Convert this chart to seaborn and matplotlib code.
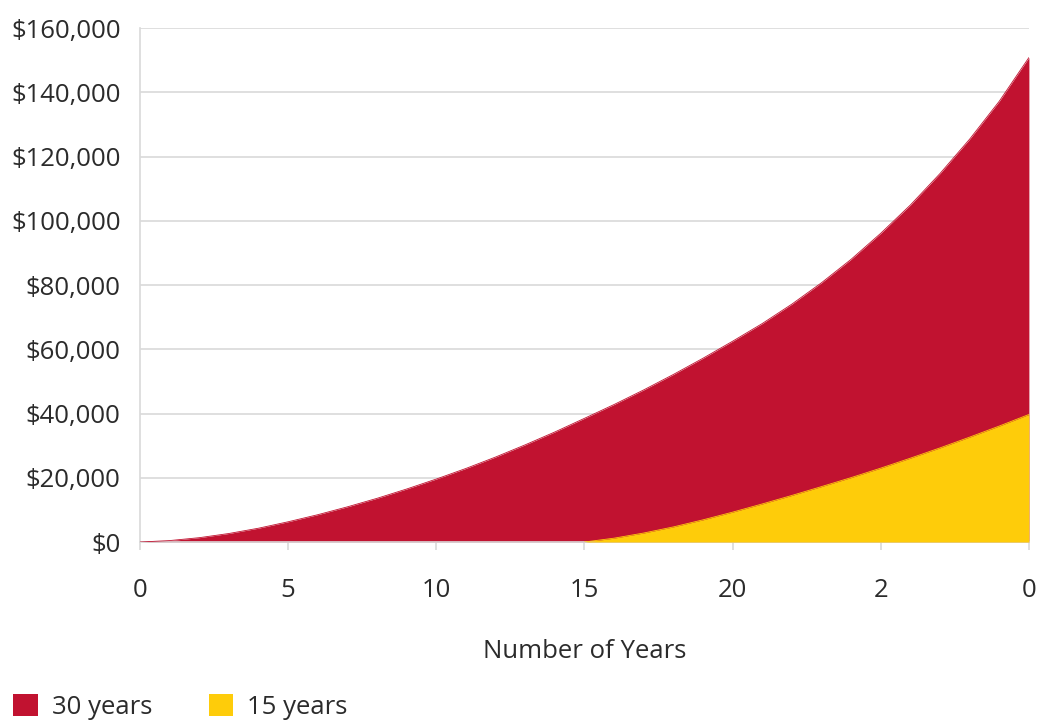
import numpy as np
import pandas as pd
import matplotlib
matplotlib.use('Agg')
import matplotlib.pyplot as plt
import seaborn as sns
from matplotlib.patches import Patch

# values (thousands of dollars)
years_30 = list(range(0, 31))
value_30 = [0, 0.45, 1.35, 2.65, 4.3, 6.3, 8.5, 10.95, 13.6, 16.5, 19.6,
            22.9, 26.45, 30.25, 34.25, 38.5, 42.8, 47.35, 52.15, 57.2, 62.5,
            68.0, 74.05, 80.7, 88.0, 96.1, 104.9, 114.7, 125.4, 137.2, 150.8]
years_15 = list(range(15, 31))
value_15 = [0, 1.2, 2.8, 4.7, 6.9, 9.3, 11.85, 14.5, 17.25, 20.05, 23.0,
            26.1, 29.3, 32.65, 36.1, 39.7]

x_ticks = [0, 5, 10, 15, 20, 25, 30]
x_tick_labels = ['0', '5', '10', '15', '20', '2', '0']
y_ticks = [0, 20000, 40000, 60000, 80000, 100000, 120000, 140000, 160000]
y_tick_labels = ['$0', '$20,000', '$40,000', '$60,000', '$80,000',
                 '$100,000', '$120,000', '$140,000', '$160,000']
series_labels = ['30 years', '15 years']

RED = '#c11230'
YELLOW = '#fecc0a'
GRID = '#d9d9d9'
TEXT = '#2b2b2b'
FS = 18.5

sns.set_theme(style='white')
plt.rcParams['font.family'] = ['Open Sans', 'DejaVu Sans']

df30 = pd.DataFrame({'year': years_30, 'value': np.array(value_30) * 1000})
df15 = pd.DataFrame({'year': years_15, 'value': np.array(value_15) * 1000})

fig = plt.figure(figsize=(10.47, 7.2), dpi=100)
ax = fig.add_axes([0.1337, 0.2472, 0.849, 0.7139])

# 30 years area
ax.fill_between(df30['year'], 0, df30['value'], color=RED, linewidth=0, zorder=2)
sns.lineplot(data=df30, x='year', y='value', color=RED, linewidth=0.6, ax=ax, zorder=3)
# 15 years area
ax.fill_between(df15['year'], 0, df15['value'], color=YELLOW, linewidth=0, zorder=4)
sns.lineplot(data=df15, x='year', y='value', color=YELLOW, linewidth=0.6, ax=ax, zorder=5)

ax.set_xlim(0, 30)
ax.set_ylim(0, 160000)
ax.set_xticks(x_ticks)
ax.set_xticklabels(x_tick_labels)
ax.set_yticks(y_ticks)
ax.set_yticklabels(y_tick_labels)

ax.yaxis.grid(True, color=GRID, linewidth=1.2, zorder=0)
ax.xaxis.grid(False)
ax.set_axisbelow(True)

for side in ['top', 'right']:
    ax.spines[side].set_visible(False)
for side in ['left', 'bottom']:
    ax.spines[side].set_color(GRID)
    ax.spines[side].set_linewidth(1.2)

ax.tick_params(axis='x', length=6, width=1.2, color=GRID, pad=20,
               labelsize=FS, labelcolor=TEXT, bottom=True)
ax.tick_params(axis='y', length=0, pad=14, labelsize=FS, labelcolor=TEXT)

ax.set_xlabel('Number of Years', fontsize=FS, color=TEXT, labelpad=26)
ax.set_ylabel('')

handles = [Patch(facecolor=RED, edgecolor='none'),
           Patch(facecolor=YELLOW, edgecolor='none')]
fig.legend(handles, series_labels, loc='lower left',
           bbox_to_anchor=(0.003, -0.014), ncol=2, frameon=False,
           fontsize=FS, labelcolor=TEXT, handlelength=0.95, handleheight=0.95,
           handletextpad=0.55, columnspacing=2.2, borderaxespad=0)

fig.savefig('out.png', dpi=100)
